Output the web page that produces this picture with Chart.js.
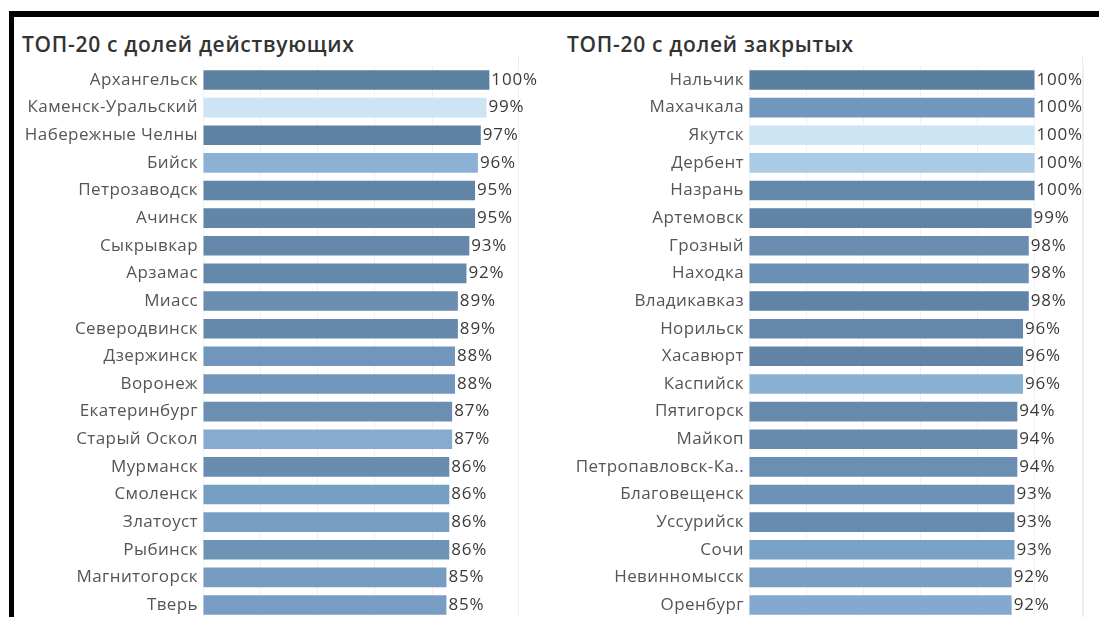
<!DOCTYPE html>
<html><head><meta charset="utf-8">
<script src="https://cdn.jsdelivr.net/npm/chart.js@4"></script>
<style>
html,body{margin:0;padding:0;background:#fff;width:1099px;height:617px;overflow:hidden;position:relative;font-family:"Open Sans",sans-serif;}
.bt{position:absolute;left:9px;top:11px;width:1090px;height:6px;background:#000;}
.bl{position:absolute;left:9px;top:11px;width:5px;height:606px;background:#000;}
.title{position:absolute;font-size:21px;font-weight:600;letter-spacing:0.7px;color:#333;white-space:nowrap;}
.vline{position:absolute;top:55px;width:1px;height:562px;background:#ececec;}
canvas{position:absolute;}
</style></head><body>
<div class="bt"></div><div class="bl"></div>
<div class="title" style="left:22px;top:30px;">ТОП-20 с долей действующих</div>
<div class="title" style="left:567px;top:30px;">ТОП-20 с долей закрытых</div>
<div class="vline" style="left:518px;"></div>
<div class="vline" style="left:1082px;"></div>
<canvas id="c1" width="531" height="583" style="left:14px;top:51px;"></canvas>
<canvas id="c2" width="551" height="583" style="left:548px;top:51px;"></canvas>
<script>
const leftCities = ["Архангельск","Каменск-Уральский","Набережные Челны","Бийск","Петрозаводск","Ачинск","Сыкрывкар","Арзамас","Миасс","Северодвинск","Дзержинск","Воронеж","Екатеринбург","Старый Оскол","Мурманск","Смоленск","Златоуст","Рыбинск","Магнитогорск","Тверь"];
const leftValues = [100,99,97,96,95,95,93,92,89,89,88,88,87,87,86,86,86,86,85,85];
const leftColors = ["#5d7fa1","#cce4f3","#5f81a3","#8cb1d4","#6284a6","#6385a7","#6587a9","#6587a9","#6a8db0","#6688ab","#7096bb","#7096bb","#6b8eb2","#87abd0","#6a8cb0","#769dc2","#779ec3","#6f93b7","#769cc1","#779dc2"];

const rightCities = ["Нальчик","Махачкала","Якутск","Дербент","Назрань","Артемовск","Грозный","Находка","Владикавказ","Норильск","Хасавюрт","Каспийск","Пятигорск","Майкоп","Петропавловск-Ка..","Благовещенск","Уссурийск","Сочи","Невинномысск","Оренбург"];
const rightValues = [100,100,100,100,100,99,98,98,98,96,96,96,94,94,94,93,93,93,92,92];
const rightColors = ["#5c7ea0","#7098bd","#cce4f3","#a9cbe6","#6587a9","#6183a5","#6a8db1","#6c90b4","#6083a6","#6587aa","#6083a6","#8ab0d4","#6789ac","#6789ac","#6b8eb3","#6e92b6","#688cb0","#7aa1c6","#779dc3","#84a9cf"];

const spacing = {
  id:'spacing',
  beforeDraw(chart){ chart.ctx.letterSpacing = '0.4px'; }
};
const valueLabels = {
  id:'valueLabels',
  afterDatasetsDraw(chart){
    const ctx = chart.ctx;
    const ds = chart.data.datasets[0];
    const meta = chart.getDatasetMeta(0);
    ctx.save();
    ctx.font = '17px "Open Sans", sans-serif';
    ctx.letterSpacing = '0.8px';
    ctx.fillStyle = '#3a3a3a';
    ctx.textBaseline = 'middle';
    ctx.textAlign = 'left';
    meta.data.forEach((el,i)=>{
      ctx.fillText(ds.data[i] + '%', el.x + 2, el.y);
    });
    ctx.restore();
  }
};

function makeChart(id, cities, values, colors, axisW, xmax, padRight){
  return new Chart(document.getElementById(id), {
    type:'bar',
    data:{labels:cities, datasets:[{data:values, backgroundColor:colors, borderWidth:0, categoryPercentage:1, barPercentage:0.71}]},
    options:{
      indexAxis:'y', responsive:false, animation:false,
      layout:{padding:{left:0,right:padRight,top:0,bottom:0}},
      plugins:{legend:{display:false}, tooltip:{enabled:false}},
      scales:{
        x:{min:0,max:xmax,display:true,
           ticks:{display:false,stepSize:20},
           grid:{color:'#f1f1f1',drawTicks:false,lineWidth:1},
           border:{display:false}},
        y:{ticks:{color:'#555',font:{family:'"Open Sans", sans-serif',size:17,lineHeight:1.2},padding:5,autoSkip:false},
           grid:{display:false,drawTicks:false},
           border:{display:false},
           afterFit(s){ s.width = axisW; }}
      }
    },
    plugins:[spacing, valueLabels]
  });
}
makeChart('c1', leftCities, leftValues, leftColors, 189, 110, 27);
makeChart('c2', rightCities, rightValues, rightColors, 201, 117, 16);
</script>
</body></html>
